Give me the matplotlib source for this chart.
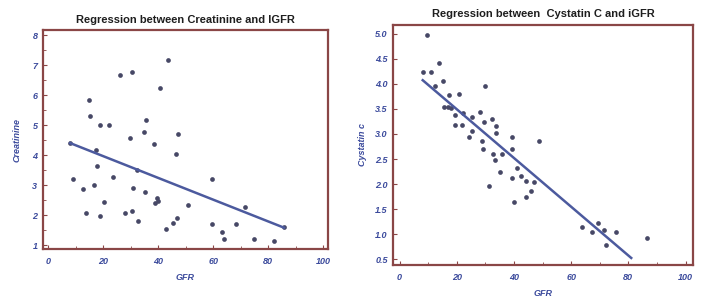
import matplotlib
matplotlib.use('Agg')
import matplotlib.pyplot as plt
from matplotlib.ticker import MultipleLocator

# Creatinine vs GFR (left panel)
creat_gfr = [43.4, 26.1, 30.4, 40.5, 14.9, 15.2, 19.0, 22.0, 35.4, 34.9, 29.7, 38.4,
             47.2, 46.3, 8.0, 17.3, 17.6, 9.1, 23.4, 32.1, 12.7, 16.7, 30.9, 35.3,
             39.4, 40.0, 38.8, 50.9, 20.4, 13.7, 19.0, 27.9, 30.4, 32.5, 42.8, 45.5,
             46.7, 59.7, 71.6, 59.7, 68.3, 63.1, 64.0, 74.8, 82.2, 85.7]
creat_val = [7.16, 6.67, 6.76, 6.22, 5.82, 5.31, 5.0, 5.0, 5.18, 4.78, 4.58, 4.38,
             4.71, 4.03, 4.4, 4.16, 3.63, 3.2, 3.28, 3.5, 2.86, 3.0, 2.9, 2.76,
             2.58, 2.47, 2.39, 2.32, 2.42, 2.08, 1.98, 2.08, 2.14, 1.81, 1.54, 1.72,
             1.89, 3.2, 2.28, 1.69, 1.69, 1.42, 1.2, 1.2, 1.14, 1.59]
creat_fit_x = [8.0, 85.7]
creat_fit_y = [4.4, 1.58]

# Cystatin C vs GFR (right panel)
cys_gfr = [9.5, 8.1, 11.0, 13.9, 15.3, 12.4, 17.4, 20.9, 29.9, 15.7, 17.1, 18.0,
           19.4, 22.3, 25.2, 28.1, 19.4, 21.7, 25.5, 24.3, 29.7, 32.2, 33.6, 33.6,
           29.0, 29.3, 39.2, 39.4, 48.8, 32.8, 33.4, 35.9, 35.2, 31.4, 41.0, 39.4,
           42.5, 44.2, 46.9, 46.0, 44.2, 40.0, 63.8, 67.4, 69.3, 71.5, 75.8, 72.3,
           86.6]
cys_val = [4.97, 4.24, 4.24, 4.42, 4.05, 3.95, 3.77, 3.79, 3.96, 3.53, 3.54, 3.51,
           3.38, 3.42, 3.34, 3.44, 3.18, 3.18, 3.06, 2.93, 3.24, 3.29, 3.16, 3.01,
           2.86, 2.71, 2.94, 2.71, 2.86, 2.6, 2.48, 2.61, 2.25, 1.97, 2.33, 2.12,
           2.16, 2.06, 2.05, 1.87, 1.75, 1.65, 1.14, 1.04, 1.23, 1.08, 1.04, 0.79,
           0.92]
cys_fit_x = [8.1, 81.0]
cys_fit_y = [4.07, 0.53]

FRAME = '#8a4646'
TICK_TXT = '#3b4a9c'
DOT = '#474866'
LINE = '#4c5a9e'

plt.rcParams['font.family'] = ['Liberation Sans', 'DejaVu Sans']

fig = plt.figure(figsize=(7.01, 3.0), dpi=100)
ax1 = fig.add_axes([0.0613, 0.17, 0.4067, 0.73])
ax2 = fig.add_axes([0.561, 0.1167, 0.428, 0.80])


def style(ax):
    for s in ax.spines.values():
        s.set_color(FRAME)
        s.set_linewidth(1.6)
    ax.tick_params(which='both', direction='in', color=FRAME, labelsize=6.5,
                   labelcolor=TICK_TXT)
    ax.tick_params(axis='x', pad=6)
    ax.tick_params(axis='y', pad=4)
    ax.tick_params(which='major', length=3)
    ax.tick_params(which='minor', length=2)
    for lab in ax.get_xticklabels() + ax.get_yticklabels():
        lab.set_fontweight('bold')
        lab.set_fontstyle('italic')


# left
ax1.plot(creat_gfr, creat_val, 'o', color=DOT, ms=3.4, mec='none')
ax1.plot(creat_fit_x, creat_fit_y, '-', color=LINE, lw=1.8)
ax1.set_xlim(-1.9, 101.7)
ax1.set_ylim(0.87, 8.17)
ax1.xaxis.set_major_locator(MultipleLocator(20))
ax1.xaxis.set_minor_locator(MultipleLocator(10))
ax1.yaxis.set_major_locator(MultipleLocator(1))
ax1.yaxis.set_minor_locator(MultipleLocator(0.5))
style(ax1)
ax1.set_title('Regression between Creatinine and IGFR', fontsize=8,
              fontweight='bold', color='#1e1e1e', pad=5)
ax1.set_xlabel('GFR', fontsize=6.5, color=TICK_TXT, fontweight='bold',
               fontstyle='italic', labelpad=5)
ax1.set_ylabel('Creatinine', fontsize=6.5, color=TICK_TXT, fontweight='bold',
               fontstyle='italic', labelpad=8)

# right
ax2.plot(cys_gfr, cys_val, 'o', color=DOT, ms=3.4, mec='none')
ax2.plot(cys_fit_x, cys_fit_y, '-', color=LINE, lw=1.8)
ax2.set_xlim(-2.2, 102.7)
ax2.set_ylim(0.39, 5.17)
ax2.xaxis.set_major_locator(MultipleLocator(20))
ax2.xaxis.set_minor_locator(MultipleLocator(10))
ax2.yaxis.set_major_locator(MultipleLocator(0.5))
ax2.yaxis.set_major_formatter(plt.FormatStrFormatter('%.1f'))
style(ax2)
ax2.set_title('Regression between  Cystatin C and iGFR', fontsize=8,
              fontweight='bold', color='#1e1e1e', pad=6)
ax2.set_xlabel('GFR', fontsize=6.5, color=TICK_TXT, fontweight='bold',
               fontstyle='italic', labelpad=5)
ax2.set_ylabel('Cystatin c', fontsize=6.5, color=TICK_TXT, fontweight='bold',
               fontstyle='italic', labelpad=6)

fig.savefig('out.png', dpi=100)
